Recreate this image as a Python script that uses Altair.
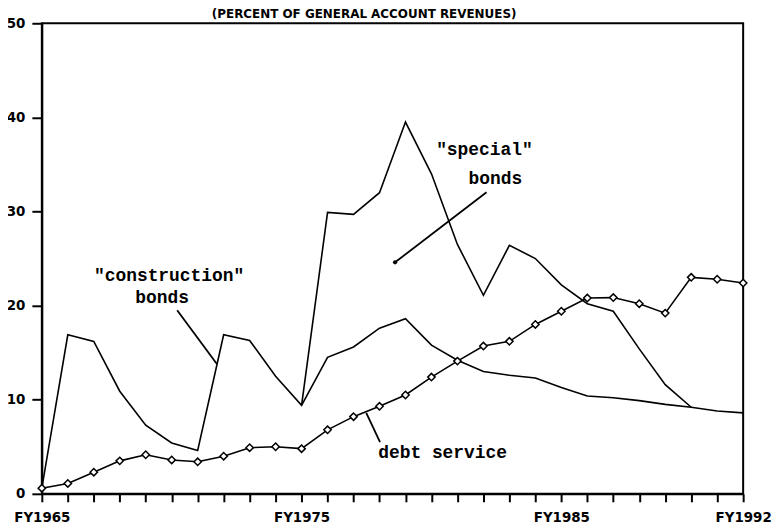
import altair as alt
import pandas as pd

years = list(range(1965, 1993))

construction = [0.6, 16.9, 16.2, 10.9, 7.3, 5.4, 4.6, 16.9, 16.3, 12.5, 9.4,
                14.5, 15.6, 17.6, 18.6, 15.8, 14.2, 13.0, 12.6, 12.3, 11.3,
                10.4, 10.2, 9.9, 9.5, 9.2, 8.8, 8.6]

special_years = list(range(1975, 1991))
special = [9.4, 29.9, 29.7, 32.0, 39.5, 34.0, 26.5, 21.1, 26.4, 25.0, 22.2,
           20.2, 19.4, 15.4, 11.6, 9.2]

debt = [0.6, 1.1, 2.3, 3.5, 4.15, 3.6, 3.4, 4.0, 4.9, 5.0, 4.8,
        6.8, 8.2, 9.3, 10.5, 12.4, 14.1, 15.7, 16.2, 18.0, 19.4,
        20.8, 20.85, 20.2, 19.2, 23.0, 22.8, 22.4]

label_years = [1965, 1975, 1985, 1992]

title_text = ["(PERCENT OF GENERAL ACCOUNT REVENUES)"]

# annotation texts and their anchor positions (data units)
ann_text = ['"construction"', 'bonds', '"special"', 'bonds', 'debt service']
ann_x = [1969.9, 1969.63, 1982.04, 1982.46, 1977.95]
ann_y = [23.1, 20.85, 36.5, 33.4, 4.36]
ann_align = ["center", "center", "center", "center", "left"]

# pointer lines (data units)
ptr_x1 = [1970.21, 1982.12, 1977.49]
ptr_y1 = [19.5, 32.05, 8.6]
ptr_x2 = [1971.74, 1978.6, 1978.02]
ptr_y2 = [13.8, 24.6, 5.5]

rows = []
for y, v in zip(years, construction):
    rows.append({"year": y, "value": v, "series": "construction"})
for y, v in zip(special_years, special):
    rows.append({"year": y, "value": v, "series": "special"})
for y, v in zip(years, debt):
    rows.append({"year": y, "value": v, "series": "debt"})
df = pd.DataFrame(rows)
debt_df = pd.DataFrame({"year": years, "value": debt})

ann_df = pd.DataFrame({"text": ann_text, "x": ann_x, "y": ann_y, "align": ann_align})
ptr_df = pd.DataFrame({"x": ptr_x1, "y": ptr_y1, "x2": ptr_x2, "y2": ptr_y2})
dot_df = pd.DataFrame({"x": [ptr_x2[1]], "y": [ptr_y2[1]]})
title_df = pd.DataFrame({"text": title_text})

label_expr = ("indexof([" + ",".join(str(y) for y in label_years)
              + "], datum.value) >= 0 ? 'FY' + datum.value : ''")

xscale = alt.Scale(domain=[1965, 1992], nice=False, zero=False)
yscale = alt.Scale(domain=[0, 50], nice=False)

x_axis = alt.Axis(values=years, labelExpr=label_expr, title=None, grid=False,
                  ticks=True, tickSize=8, tickWidth=2, tickColor="black",
                  domainColor="black", domainWidth=2, labelFont="DejaVu Sans",
                  labelFontWeight="bold", labelFontSize=13.5, labelColor="black",
                  labelPadding=9, labelOverlap=False, labelFlush=False,
                  labelBound=False)
y_axis = alt.Axis(values=[0, 10, 20, 30, 40, 50], title=None, grid=False,
                  ticks=True, tickSize=10, tickWidth=2, tickColor="black",
                  domainColor="black", domainWidth=2, labelFont="DejaVu Sans",
                  labelFontWeight="bold", labelFontSize=13.5, labelColor="black",
                  labelPadding=7)


def X(field):
    return alt.X(field, scale=xscale, axis=x_axis)


def Y(field):
    return alt.Y(field, scale=yscale, axis=y_axis)


lines = alt.Chart(df).mark_line(color="black", strokeWidth=1.6).encode(
    x=X("year:Q"), y=Y("value:Q"), detail="series:N")

points = alt.Chart(debt_df).mark_point(shape="diamond", filled=True, fill="white",
                                       stroke="black", strokeWidth=1.5, size=55,
                                       opacity=1).encode(
    x=X("year:Q"), y=Y("value:Q"))

texts_c = alt.Chart(ann_df[ann_df["align"] == "center"]).mark_text(
    font="Liberation Mono", fontSize=18, fontWeight="bold", color="black",
    align="center", baseline="middle").encode(
    x=X("x:Q"), y=Y("y:Q"), text="text:N")
texts_l = alt.Chart(ann_df[ann_df["align"] == "left"]).mark_text(
    font="Liberation Mono", fontSize=18, fontWeight="bold", color="black",
    align="left", baseline="middle").encode(
    x=X("x:Q"), y=Y("y:Q"), text="text:N")

ptrs = alt.Chart(ptr_df).mark_rule(color="black", strokeWidth=1.8).encode(
    x=X("x:Q"), y=Y("y:Q"), x2="x2:Q", y2="y2:Q")

dot = alt.Chart(dot_df).mark_point(filled=True, color="black", size=18, opacity=1).encode(
    x=X("x:Q"), y=Y("y:Q"))

title = alt.Chart(title_df).mark_text(
    font="DejaVu Sans", fontSize=12, fontWeight="bold", color="black",
    align="center", baseline="bottom").encode(
    x=alt.value(324), y=alt.value(-2), text="text:N")

chart = alt.layer(lines, points, ptrs, dot, texts_c, texts_l, title).properties(
    width=705, height=473,
    background="white",
    autosize=alt.AutoSizeParams(type="none"),
    padding={"left": 34, "top": 14, "right": 30, "bottom": 30},
).configure_view(stroke="black", strokeWidth=2)

chart.save("out.html", embed_options={"renderer": "svg", "actions": False})
